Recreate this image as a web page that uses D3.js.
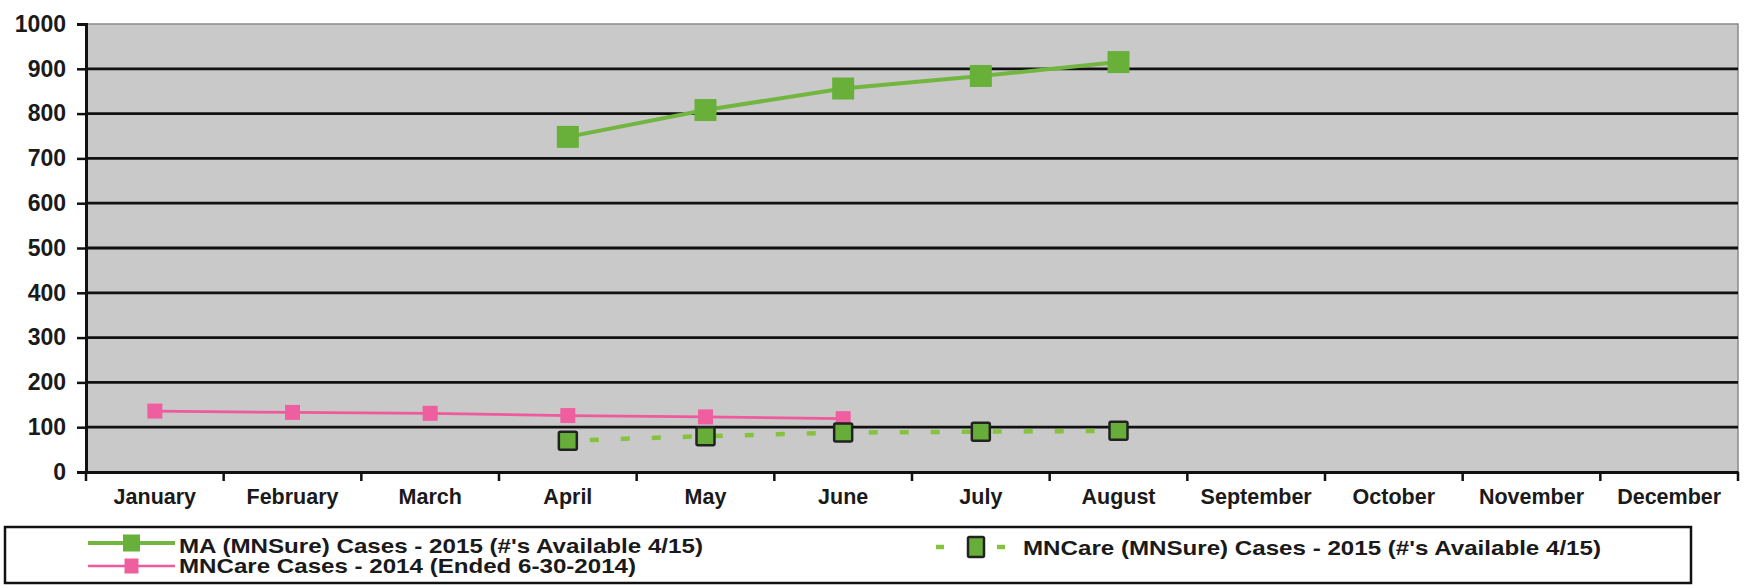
<!DOCTYPE html>
<html><head><meta charset="utf-8">
<script src="https://cdn.jsdelivr.net/npm/d3@7"></script>
<style>
html,body{margin:0;padding:0;background:#fff;}
svg{display:block;font-family:"Liberation Sans",Arial,sans-serif;}
</style></head>
<body><svg id="c" width="1744" height="588"></svg>
<script>
const months = ["January","February","March","April","May","June","July","August","September","October","November","December"];
const yTicks = [0,100,200,300,400,500,600,700,800,900,1000];
const maMonths = ["April","May","June","July","August"];
const maValues = [748,808,856,884,915];
const mncare2014Months = ["January","February","March","April","May","June"];
const mncare2014Values = [136,133,131,126,123,119];
const mncareSureMonths = ["April","May","June","July","August"];
const mncareSureValues = [70,80,88,90,92];
const legendLabels = ["MA (MNSure) Cases - 2015 (#'s Available 4/15)","MNCare Cases - 2014 (Ended 6-30-2014)","MNCare (MNSure) Cases - 2015 (#'s Available 4/15)"];

const svg = d3.select("#c");
const L = 86, R = 1738, T = 24, B = 472;
const x = d3.scaleBand().domain(months).range([L, R]);
const y = d3.scaleLinear().domain([0, 1000]).range([B, T]);
const cx = m => x(m) + x.bandwidth() / 2;

// plot background
svg.append("rect").attr("x", L).attr("y", T).attr("width", R - L).attr("height", B - T)
  .attr("fill", "#c9c9c9").attr("stroke", "#8a8a8a").attr("stroke-width", 1.5);

// gridlines
svg.append("g").selectAll("line").data(yTicks.filter(d => d > 0 && d < 1000)).join("line")
  .attr("x1", L).attr("x2", R).attr("y1", d => y(d)).attr("y2", d => y(d))
  .attr("stroke", "#111").attr("stroke-width", 2.8);

// y axis
const yAxis = svg.append("g").attr("transform", `translate(${L},0)`)
  .call(d3.axisLeft(y).tickValues(yTicks).tickFormat(d3.format("d")).tickSize(9).tickPadding(11));
yAxis.select(".domain").attr("stroke", "#111").attr("stroke-width", 3);
yAxis.selectAll(".tick line").attr("stroke", "#111").attr("stroke-width", 2.5);
yAxis.selectAll("text").attr("font-size", 23).attr("font-weight", "bold").attr("fill", "#1a1a1a")
  .attr("font-family", "Liberation Sans, Arial, sans-serif");

// x axis
const xAxis = svg.append("g").attr("transform", `translate(0,${B})`)
  .call(d3.axisBottom(x).tickSize(0).tickPadding(17));
xAxis.select(".domain").attr("stroke", "#111").attr("stroke-width", 3);
xAxis.selectAll("text").attr("font-size", 21.5).attr("font-weight", "bold").attr("fill", "#1a1a1a")
  .attr("font-family", "Liberation Sans, Arial, sans-serif");
// boundary ticks
const bounds = months.map(m => x(m)).concat([R]);
svg.append("g").selectAll("line").data(bounds).join("line")
  .attr("x1", d => d).attr("x2", d => d).attr("y1", B).attr("y2", B + 9)
  .attr("stroke", "#111").attr("stroke-width", 2.5);

const line = d3.line().x(d => cx(d[0])).y(d => y(d[1]));

// MNCare 2014 (pink)
const pinkData = d3.zip(mncare2014Months, mncare2014Values);
svg.append("path").datum(pinkData).attr("d", line).attr("fill", "none")
  .attr("stroke", "#ee5a9c").attr("stroke-width", 2.7);
svg.append("g").selectAll("rect").data(pinkData).join("rect")
  .attr("x", d => cx(d[0]) - 7.5).attr("y", d => y(d[1]) - 7.5).attr("width", 15).attr("height", 15)
  .attr("fill", "#ef5f9f");

// MNCare MNSure 2015 (dashed)
const dashData = d3.zip(mncareSureMonths, mncareSureValues);
svg.append("path").datum(dashData).attr("d", line).attr("fill", "none")
  .attr("stroke", "#86c23e").attr("stroke-width", 4.5).attr("stroke-dasharray", "9,22")
  .attr("stroke-dashoffset", -22);
svg.append("g").selectAll("rect").data(dashData).join("rect")
  .attr("x", d => cx(d[0]) - 9).attr("y", d => y(d[1]) - 9).attr("width", 18).attr("height", 18)
  .attr("fill", "#66ad3a").attr("stroke", "#222").attr("stroke-width", 2.5).attr("rx", 1.5);

// MA 2015 (green)
const maData = d3.zip(maMonths, maValues);
svg.append("path").datum(maData).attr("d", line).attr("fill", "none")
  .attr("stroke", "#72b53f").attr("stroke-width", 4);
svg.append("g").selectAll("rect").data(maData).join("rect")
  .attr("x", d => cx(d[0]) - 11).attr("y", d => y(d[1]) - 11).attr("width", 22).attr("height", 22)
  .attr("fill", "#68b03a");

// legend
const lg = svg.append("g");
lg.append("rect").attr("x", 5).attr("y", 527).attr("width", 1686).attr("height", 56)
  .attr("fill", "#fff").attr("stroke", "#111").attr("stroke-width", 2.5);
const rows = [
  {x0: 88, x1: 175, y: 543, color: "#72b53f", w: 4, mw: 17, mh: 17, mfill: "#68b03a", label: legendLabels[0], tx: 179, base: 553, len: 524},
  {x0: 88, x1: 175, y: 566, color: "#ee5a9c", w: 2.7, mw: 14, mh: 15, mfill: "#ef5f9f", label: legendLabels[1], tx: 179, base: 573, len: 457}
];
rows.forEach(r => {
  lg.append("line").attr("x1", r.x0).attr("x2", r.x1).attr("y1", r.y).attr("y2", r.y)
    .attr("stroke", r.color).attr("stroke-width", r.w);
  lg.append("rect").attr("x", (r.x0 + r.x1) / 2 - r.mw / 2).attr("y", r.y - r.mh / 2)
    .attr("width", r.mw).attr("height", r.mh).attr("fill", r.mfill);
  lg.append("text").attr("x", r.tx).attr("y", r.base).text(r.label)
    .attr("font-size", 21).attr("font-weight", "bold").attr("fill", "#1a1a1a")
    .attr("textLength", r.len).attr("lengthAdjust", "spacingAndGlyphs");
});
// dashed legend sample
[940, 1001].forEach(px => lg.append("line").attr("x1", px - 4).attr("x2", px + 4)
  .attr("y1", 547).attr("y2", 547).attr("stroke", "#86c23e").attr("stroke-width", 4.5));
lg.append("rect").attr("x", 976 - 8).attr("y", 547 - 10).attr("width", 16).attr("height", 20)
  .attr("fill", "#66ad3a").attr("stroke", "#222").attr("stroke-width", 2.5).attr("rx", 1.5);
lg.append("text").attr("x", 1023).attr("y", 555).text(legendLabels[2])
  .attr("font-size", 21).attr("font-weight", "bold").attr("fill", "#1a1a1a")
  .attr("textLength", 578).attr("lengthAdjust", "spacingAndGlyphs");
</script>
</body></html>
